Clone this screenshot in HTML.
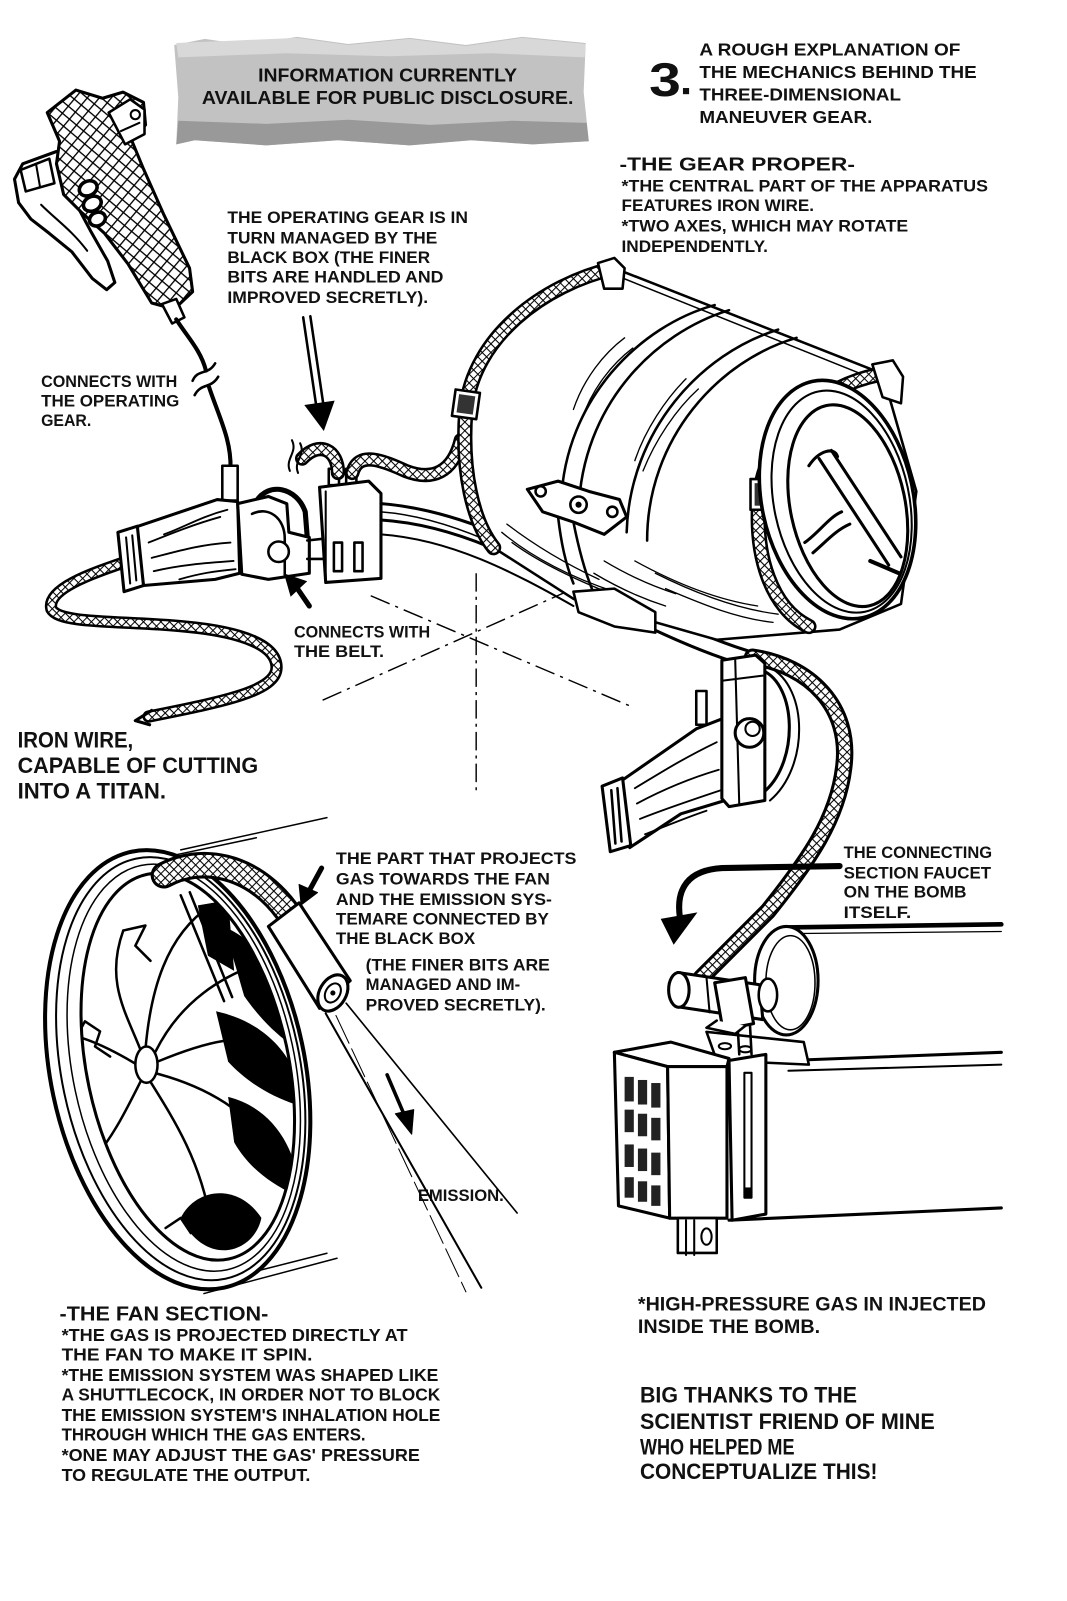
<!DOCTYPE html>
<html><head><meta charset="utf-8">
<style>
html,body{margin:0;padding:0;background:#fff;}
svg{display:block;}
text{font-family:"Liberation Sans",sans-serif;font-weight:bold;fill:#111;}
</style></head><body>
<svg width="1067" height="1601" viewBox="0 0 1042 1564" xmlns="http://www.w3.org/2000/svg">
<defs>
<pattern id="mesh" width="6" height="6" patternUnits="userSpaceOnUse" patternTransform="rotate(45)">
<rect width="6" height="6" fill="#fff"/>
<path d="M0 0H6M0 0V6" stroke="#000" stroke-width="2"/>
</pattern>
<pattern id="meshbig" width="9" height="9" patternUnits="userSpaceOnUse" patternTransform="rotate(40)">
<rect width="9" height="9" fill="#fff"/>
<path d="M0 0H9M0 0V9" stroke="#000" stroke-width="2.6"/>
</pattern>
<clipPath id="fanclip"><ellipse cx="182" cy="1065" rx="100" ry="195" transform="rotate(-12 182 1065)"/></clipPath>
</defs>

<!-- HEADER BOX -->
<path d="M170,44 L200,38 L240,44 L290,36 L340,43 L400,37 L455,44 L510,36 L572,42 L570,90 L575,138 L520,141 L460,137 L400,142 L330,137 L260,142 L190,137 L172,141 L174,95 Z" fill="#c2c2c2"/>
<path d="M172,42 L220,40 L290,37 L340,44 L400,38 L455,45 L510,37 L572,43 L571,56 L480,52 L380,55 L280,52 L174,56 Z" fill="#d8d8d8"/>
<path d="M174,118 L260,121 L340,117 L420,122 L500,118 L573,120 L575,138 L520,141 L460,137 L400,142 L330,137 L260,142 L190,137 L172,141 Z" fill="#999"/>
<text x="252" y="79.5" font-size="18" textLength="253" lengthAdjust="spacingAndGlyphs">INFORMATION CURRENTLY</text>
<text x="197" y="101.5" font-size="18" textLength="363" lengthAdjust="spacingAndGlyphs">AVAILABLE FOR PUBLIC DISCLOSURE.</text>

<!-- TITLE -->
<text x="634" y="94" font-size="46" textLength="31" lengthAdjust="spacingAndGlyphs">3</text>
<rect x="667" y="86" width="6" height="6" fill="#111"/>
<g font-size="17">
<text x="683" y="54" textLength="255" lengthAdjust="spacingAndGlyphs">A ROUGH EXPLANATION OF</text>
<text x="683" y="76" textLength="271" lengthAdjust="spacingAndGlyphs">THE MECHANICS BEHIND THE</text>
<text x="683" y="98" textLength="197" lengthAdjust="spacingAndGlyphs">THREE-DIMENSIONAL</text>
<text x="683" y="120" textLength="169" lengthAdjust="spacingAndGlyphs">MANEUVER GEAR.</text>
</g>
<text x="605" y="166.5" font-size="18" textLength="230" lengthAdjust="spacingAndGlyphs">-THE GEAR PROPER-</text>
<g font-size="16">
<text x="607" y="187" textLength="358" lengthAdjust="spacingAndGlyphs">*THE CENTRAL PART OF THE APPARATUS</text>
<text x="607" y="206" textLength="188" lengthAdjust="spacingAndGlyphs">FEATURES IRON WIRE.</text>
<text x="607" y="226" textLength="280" lengthAdjust="spacingAndGlyphs">*TWO AXES, WHICH MAY ROTATE</text>
<text x="607" y="246" textLength="143" lengthAdjust="spacingAndGlyphs">INDEPENDENTLY.</text>

<text x="222" y="218" textLength="235" lengthAdjust="spacingAndGlyphs">THE OPERATING GEAR IS IN</text>
<text x="222" y="238" textLength="205" lengthAdjust="spacingAndGlyphs">TURN MANAGED BY THE</text>
<text x="222" y="257" textLength="198" lengthAdjust="spacingAndGlyphs">BLACK BOX (THE FINER</text>
<text x="222" y="276" textLength="211" lengthAdjust="spacingAndGlyphs">BITS ARE HANDLED AND</text>
<text x="222" y="296" textLength="196" lengthAdjust="spacingAndGlyphs">IMPROVED SECRETLY).</text>

<text x="40" y="378" textLength="133" lengthAdjust="spacingAndGlyphs">CONNECTS WITH</text>
<text x="40" y="397" textLength="135" lengthAdjust="spacingAndGlyphs">THE OPERATING</text>
<text x="40" y="416" textLength="49" lengthAdjust="spacingAndGlyphs">GEAR.</text>

<text x="287" y="623" textLength="133" lengthAdjust="spacingAndGlyphs">CONNECTS WITH</text>
<text x="287" y="642" textLength="88" lengthAdjust="spacingAndGlyphs">THE BELT.</text>

<text x="328" y="844" textLength="235" lengthAdjust="spacingAndGlyphs">THE PART THAT PROJECTS</text>
<text x="328" y="864" textLength="209" lengthAdjust="spacingAndGlyphs">GAS TOWARDS THE FAN</text>
<text x="328" y="884" textLength="211" lengthAdjust="spacingAndGlyphs">AND THE EMISSION SYS-</text>
<text x="328" y="903" textLength="208" lengthAdjust="spacingAndGlyphs">TEMARE CONNECTED BY</text>
<text x="328" y="922" textLength="136" lengthAdjust="spacingAndGlyphs">THE BLACK BOX</text>
<text x="357" y="948" textLength="180" lengthAdjust="spacingAndGlyphs">(THE FINER BITS ARE</text>
<text x="357" y="967" textLength="151" lengthAdjust="spacingAndGlyphs">MANAGED AND IM-</text>
<text x="357" y="987" textLength="176" lengthAdjust="spacingAndGlyphs">PROVED SECRETLY).</text>
<text x="408" y="1173" textLength="84" lengthAdjust="spacingAndGlyphs">EMISSION.</text>

<text x="824" y="838" textLength="145" lengthAdjust="spacingAndGlyphs">THE CONNECTING</text>
<text x="824" y="858" textLength="144" lengthAdjust="spacingAndGlyphs">SECTION FAUCET</text>
<text x="824" y="877" textLength="120" lengthAdjust="spacingAndGlyphs">ON THE BOMB</text>
<text x="824" y="897" textLength="66" lengthAdjust="spacingAndGlyphs">ITSELF.</text>
</g>
<g font-size="22">
<text x="17" y="730" textLength="113" lengthAdjust="spacingAndGlyphs">IRON WIRE,</text>
<text x="17" y="755" textLength="235" lengthAdjust="spacingAndGlyphs">CAPABLE OF CUTTING</text>
<text x="17" y="780" textLength="145" lengthAdjust="spacingAndGlyphs">INTO A TITAN.</text>
</g>
<g font-size="19">
<text x="623" y="1280" textLength="340" lengthAdjust="spacingAndGlyphs">*HIGH-PRESSURE GAS IN INJECTED</text>
<text x="623" y="1302" textLength="178" lengthAdjust="spacingAndGlyphs">INSIDE THE BOMB.</text>
</g>
<g font-size="22">
<text x="625" y="1370" textLength="212" lengthAdjust="spacingAndGlyphs">BIG THANKS TO THE</text>
<text x="625" y="1396" textLength="288" lengthAdjust="spacingAndGlyphs">SCIENTIST FRIEND OF MINE</text>
<text x="625" y="1421" textLength="151" lengthAdjust="spacingAndGlyphs">WHO HELPED ME</text>
<text x="625" y="1445" textLength="232" lengthAdjust="spacingAndGlyphs">CONCEPTUALIZE THIS!</text>
</g>
<text x="58" y="1290" font-size="20" textLength="204" lengthAdjust="spacingAndGlyphs">-THE FAN SECTION-</text>
<g font-size="17">
<text x="60" y="1310" textLength="338" lengthAdjust="spacingAndGlyphs">*THE GAS IS PROJECTED DIRECTLY AT</text>
<text x="60" y="1329" textLength="245" lengthAdjust="spacingAndGlyphs">THE FAN TO MAKE IT SPIN.</text>
<text x="60" y="1349" textLength="368" lengthAdjust="spacingAndGlyphs">*THE EMISSION SYSTEM WAS SHAPED LIKE</text>
<text x="60" y="1368" textLength="370" lengthAdjust="spacingAndGlyphs">A SHUTTLECOCK, IN ORDER NOT TO BLOCK</text>
<text x="60" y="1388" textLength="370" lengthAdjust="spacingAndGlyphs">THE EMISSION SYSTEM'S INHALATION HOLE</text>
<text x="60" y="1407" textLength="297" lengthAdjust="spacingAndGlyphs">THROUGH WHICH THE GAS ENTERS.</text>
<text x="60" y="1427" textLength="350" lengthAdjust="spacingAndGlyphs">*ONE MAY ADJUST THE GAS' PRESSURE</text>
<text x="60" y="1447" textLength="243" lengthAdjust="spacingAndGlyphs">TO REGULATE THE OUTPUT.</text>
</g>

<!-- ===== OPERATING GEAR (GUN) ===== -->
<g stroke="#000" stroke-linejoin="round" stroke-linecap="round">
<path d="M14,175 L22,160 L55,148 L72,152 L78,170 L72,195 L88,225 L105,255 L112,276 L104,283 L90,272 L70,246 L48,228 L30,214 L18,198 Z" fill="#fff" stroke-width="3"/>
<path d="M20,166 L48,155 L53,179 L25,187 Z" fill="#fff" stroke-width="2.5"/>
<path d="M35,160 L39,183" stroke-width="2"/>
<path d="M40,200 C55,215 70,225 85,245" fill="none" stroke-width="2"/>
<path d="M46,110 L74,88 L100,96 L120,90 L140,100 L142,122 L128,136 L140,165 L160,210 L185,262 L188,285 L170,302 L148,296 L125,258 L102,228 L80,208 L62,190 L55,160 L58,138 Z" fill="url(#meshbig)" stroke-width="3"/>
<path d="M106,110 L127,97 L141,107 L141,131 L122,141 Z" fill="#fff" stroke-width="2.5"/>
<circle cx="132" cy="112" r="4.5" fill="none" stroke-width="2"/>
<path d="M118,128 L136,120" stroke-width="2"/>
<g fill="#fff" stroke-width="3.5">
<ellipse cx="86" cy="184" rx="9" ry="7" transform="rotate(-25 86 184)"/>
<ellipse cx="90" cy="199" rx="9" ry="7" transform="rotate(-25 90 199)"/>
<ellipse cx="95" cy="214" rx="8" ry="6.5" transform="rotate(-25 95 214)"/>
</g>
<path d="M158,297 L172,292 L180,310 L168,316 Z" fill="#fff" stroke-width="2.5"/>
<path d="M172,312 C182,328 196,342 201,362" fill="none" stroke-width="4"/>
<path d="M204,378 C214,408 226,430 225,458" fill="none" stroke-width="4"/>
<path d="M188,372 C193,360 203,367 210,355" fill="none" stroke-width="2.5"/>
<path d="M190,386 C196,374 206,380 213,368" fill="none" stroke-width="2.5"/>
<rect x="217" y="455" width="15" height="34" fill="#fff" stroke-width="2.5"/>
</g>

<!-- ===== LEFT HUB ===== -->
<g stroke="#000" stroke-linejoin="round" stroke-linecap="round" fill="none">
<path d="M125,548 C90,560 45,575 50,595 C58,610 120,606 180,612 C235,617 270,630 270,652 C270,675 220,685 145,700" stroke-width="12"/>
<path d="M125,548 C90,560 45,575 50,595 C58,610 120,606 180,612 C235,617 270,630 270,652 C270,675 220,685 145,700" stroke="url(#mesh)" stroke-width="7"/>
<path d="M148,694 L132,704 L146,708" stroke-width="3"/>
<path d="M132,515 L212,488 L232,490 L234,560 L210,566 L140,572 Z" fill="#fff" stroke-width="3"/>
<path d="M145,530 C170,520 190,512 215,505 M148,545 C175,538 195,532 225,530 M150,558 C175,552 200,550 228,548 M160,522 C180,515 195,505 222,498 M175,566 C195,560 210,558 230,556" stroke-width="1.8"/>
<path d="M115,520 L134,514 L140,572 L121,578 Z" fill="#fff" stroke-width="3"/>
<path d="M123,525 L127,570 M129,523 L133,567" stroke-width="2"/>
<path d="M250,490 C262,470 290,476 298,500 L300,525" stroke-width="5"/>
<path d="M232,492 L262,485 L280,492 L282,520 L302,525 L302,560 L262,566 L236,561 Z" fill="#fff" stroke-width="3"/>
<path d="M246,502 C262,494 278,506 278,526 L278,562" stroke-width="2.5"/>
<circle cx="272" cy="539" r="10" fill="#fff" stroke-width="2.5"/>
<path d="M300,528 L318,526 M300,546 L318,546" stroke-width="2.5"/>
<rect x="321" y="458" width="10" height="16" fill="#fff" stroke-width="2.5"/>
<rect x="338" y="458" width="10" height="16" fill="#fff" stroke-width="2.5"/>
<path d="M312,476 L360,470 L372,482 L372,565 L318,569 Z" fill="#fff" stroke-width="3"/>
<path d="M318,480 L318,569" stroke-width="2"/>
<rect x="326" y="530" width="8" height="28" fill="#fff" stroke-width="2.5"/>
<rect x="346" y="530" width="8" height="28" fill="#fff" stroke-width="2.5"/>
<path d="M330,462 C330,440 312,430 295,448" stroke-width="14"/>
<path d="M330,462 C330,440 312,430 295,448" stroke="url(#mesh)" stroke-width="9"/>
<path d="M344,462 C350,440 374,450 396,460 C422,470 442,462 450,430" stroke-width="14"/>
<path d="M344,462 C350,440 374,450 396,460 C422,470 442,462 450,430" stroke="url(#mesh)" stroke-width="9"/>
<path d="M283,460 C278,448 291,442 285,430 M291,462 C286,450 299,445 293,433" stroke-width="2"/>
<path d="M372,492 C450,498 520,535 600,578 C650,605 700,628 745,640" stroke-width="3"/>
<path d="M372,508 C450,513 515,550 592,592 C640,617 690,640 735,652" stroke-width="3"/>
<path d="M372,522 C440,527 500,558 560,592" stroke-width="2"/>
<path d="M372,500 C440,505 505,540 575,578" stroke-width="1.5"/>
</g>

<!-- arrows -->
<g stroke="#000" stroke-linecap="round">
<path d="M296,310 L309,398 M303,309 L316,397" stroke-width="2.5"/>
<path d="M298,396 L326,392 L316,420 Z" fill="#000"/>
<path d="M302,592 L289,573" stroke-width="5"/>
<path d="M278,561 L299,568 L284,582 Z" fill="#000"/>
</g>

<!-- axis lines -->
<g stroke="#000" fill="none" stroke-width="1.4">
<path d="M465,560 L465,775" stroke-dasharray="18,5,3,5"/>
<path d="M362,582 L616,690" stroke-dasharray="20,6,3,6"/>
<path d="M315,684 L560,575" stroke-dasharray="20,6,3,6"/>
</g>

<!-- ===== CYLINDER ===== -->
<g stroke="#000" stroke-linejoin="round" stroke-linecap="round">
<path d="M600,262 L862,365 L895,480 L880,590 L820,615 L700,625 L560,585 L482,535 C462,510 450,460 455,400 C462,330 530,278 600,262 Z" fill="#fff" stroke-width="2.5"/>
<path d="M604,270 L858,372" fill="none" stroke-width="1.5"/>
<g fill="none" stroke-width="2.5">
<path d="M698,298 C625,318 552,390 548,490"/>
<path d="M712,303 C640,325 568,395 565,500"/>
<path d="M760,322 C685,345 615,420 612,520"/>
<path d="M778,330 C702,352 632,428 632,528"/>
</g>
<g fill="none" stroke-width="1.3">
<path d="M560,400 C570,370 590,345 610,330 M568,410 C578,380 598,355 618,340 M620,450 C630,420 650,390 670,370 M628,460 C640,430 660,400 682,380"/>
<path d="M490,520 C520,545 560,565 600,578 M500,530 C530,552 570,570 610,585 M640,560 C680,580 720,595 760,600"/>
<path d="M495,512 C525,535 555,552 585,566 M620,548 C660,570 700,586 740,592 M650,575 C690,592 720,604 755,608"/>
<path d="M580,560 C600,572 625,584 650,592 M590,548 C610,560 635,572 660,580"/>
</g>
<path d="M600,262 C530,278 462,330 455,400 C450,460 462,510 482,535" fill="none" stroke-width="15"/>
<path d="M600,262 C530,278 462,330 455,400 C450,460 462,510 482,535" fill="none" stroke="url(#mesh)" stroke-width="10"/>
<rect x="443" y="382" width="24" height="26" fill="#fff" stroke-width="2.5" transform="rotate(8 455 395)"/>
<rect x="447" y="386" width="16" height="18" fill="#333" stroke="none" transform="rotate(8 455 395)"/>
<path d="M584,257 L600,252 L610,262 L608,282 L590,282 Z" fill="#fff" stroke-width="2.5"/>
<path d="M545,505 C548,530 552,550 560,570 M560,510 C565,535 570,555 578,575" fill="none" stroke-width="2.5"/>
<path d="M515,478 L545,470 L575,480 L605,488 L612,505 L590,522 L560,510 L530,500 Z" fill="#fff" stroke-width="3"/>
<circle cx="528" cy="480" r="5" fill="#fff" stroke-width="2.5"/>
<circle cx="565" cy="493" r="8" fill="#fff" stroke-width="2.5"/>
<circle cx="565" cy="493" r="3" fill="#000" stroke="none"/>
<circle cx="598" cy="500" r="5" fill="#fff" stroke-width="2.5"/>
<path d="M560,578 L600,575 L640,598 L640,618 L600,612 L565,598 Z" fill="#fff" stroke-width="2.5"/>
<path d="M858,366 C800,378 752,420 742,480 C735,545 755,595 790,612" fill="none" stroke-width="15"/>
<path d="M858,366 C800,378 752,420 742,480 C735,545 755,595 790,612" fill="none" stroke="url(#mesh)" stroke-width="10"/>
<rect x="733" y="468" width="24" height="30" fill="#fff" stroke-width="2.5"/>
<rect x="737" y="472" width="16" height="22" fill="#333" stroke="none"/>
<path d="M852,356 L872,352 L882,368 L880,394 L862,388 Z" fill="#fff" stroke-width="2.5"/>
<ellipse cx="818" cy="488" rx="74" ry="118" transform="rotate(-12 818 488)" fill="#fff" stroke-width="3.5"/>
<ellipse cx="822" cy="490" rx="66" ry="110" transform="rotate(-12 822 490)" fill="none" stroke-width="2"/>
<ellipse cx="828" cy="494" rx="56" ry="100" transform="rotate(-12 828 494)" fill="#fff" stroke-width="3"/>
<path d="M800,448 L868,552 M812,440 L880,544" fill="none" stroke-width="3"/>
<path d="M790,455 C800,440 815,436 818,446" fill="none" stroke-width="3"/>
<path d="M786,530 C800,520 810,505 822,500 M794,540 C806,530 816,518 830,512" fill="none" stroke-width="3"/>
<path d="M850,548 L878,560" stroke-width="4"/>
</g>

<!-- ===== LOWER RIGHT GRIP ===== -->
<g stroke="#000" stroke-linejoin="round" stroke-linecap="round">
<path d="M735,642 C790,650 832,690 824,750 C818,800 790,840 750,890 L685,955" fill="none" stroke-width="17"/>
<path d="M735,642 C790,650 832,690 824,750 C818,800 790,840 750,890 L685,955" fill="none" stroke="url(#mesh)" stroke-width="11"/>
<path d="M745,655 C778,670 780,742 748,772" fill="none" stroke-width="3"/>
<path d="M752,652 C790,672 790,750 752,782" fill="none" stroke-width="2"/>
<path d="M608,762 L680,712 L706,702 L708,782 L665,795 L615,828 Z" fill="#fff" stroke-width="3"/>
<path d="M620,770 C645,755 665,742 700,725 M622,785 C650,770 675,760 702,752 M625,800 C650,790 680,780 704,772 M630,815 C655,805 672,798 690,792" fill="none" stroke-width="1.8"/>
<path d="M588,768 L608,760 L616,826 L596,832 Z" fill="#fff" stroke-width="3"/>
<path d="M597,772 L601,824 M603,770 L607,822" fill="none" stroke-width="2.5"/>
<rect x="680" y="675" width="10" height="33" fill="#fff" stroke-width="2.5"/>
<path d="M705,645 L738,640 L747,648 L747,782 L712,788 L705,780 Z" fill="#fff" stroke-width="3"/>
<path d="M718,643 L722,786 M705,665 L745,660" fill="none" stroke-width="2"/>
<circle cx="732" cy="716" r="14" fill="#fff" stroke-width="3"/>
<circle cx="735" cy="712" r="7" fill="none" stroke-width="2"/>
</g>

<!-- curved black arrow -->
<g stroke="#000" fill="none" stroke-linecap="round">
<path d="M820,846 L705,848 C672,850 660,868 664,896" stroke-width="6"/>
<path d="M646,898 L680,892 L658,922 Z" fill="#000" stroke-width="1"/>
</g>

<!-- ===== BOMB ===== -->
<g stroke="#000" stroke-linejoin="round" stroke-linecap="round">
<path d="M768,906 L978,903" stroke-width="4.5"/>
<path d="M768,912 L978,910" stroke-width="1.2"/>
<path d="M770,1036 L978,1028" stroke-width="3"/>
<path d="M770,1046 L978,1040" stroke-width="2"/>
<path d="M712,1192 L978,1180" stroke-width="3"/>
<ellipse cx="768" cy="958" rx="31" ry="53" fill="#fff" stroke-width="3"/>
<ellipse cx="772" cy="960" rx="24" ry="46" fill="none" stroke-width="1.5"/>
<path d="M690,1008 L785,1018 L790,1040 L700,1036 Z" fill="#fff" stroke-width="2.5"/>
<ellipse cx="708" cy="1022" rx="6" ry="3" fill="none" stroke-width="2"/>
<ellipse cx="728" cy="1025" rx="6" ry="3" fill="none" stroke-width="2"/>
<path d="M720,995 L722,1030 M732,992 L734,1030" fill="none" stroke-width="2.5"/>
<path d="M662,950 L742,962 L745,996 L665,984 Z" fill="#fff" stroke-width="3"/>
<ellipse cx="663" cy="967" rx="10" ry="17" fill="#fff" stroke-width="3"/>
<path d="M690,955 L693,989" fill="none" stroke-width="2"/>
<path d="M698,960 L728,955 L736,1000 L706,1006 Z" fill="#fff" stroke-width="3"/>
<ellipse cx="750" cy="972" rx="9" ry="16" fill="#fff" stroke-width="2.5"/>
<path d="M700,997 L690,1004 L718,1010 L728,1002" fill="#fff" stroke-width="2.5"/>
<path d="M600,1028 L655,1018 L712,1034 L710,1042 L652,1042 Z" fill="#fff" stroke-width="3"/>
<path d="M600,1028 L652,1042 L654,1190 L604,1178 Z" fill="#fff" stroke-width="3"/>
<path d="M652,1042 L710,1042 L710,1190 L654,1190 Z" fill="#fff" stroke-width="3"/>
<path d="M712,1036 L748,1030 L748,1186 L715,1192 Z" fill="#fff" stroke-width="3"/>
<rect x="727" y="1048" width="7" height="122" fill="#fff" stroke-width="2"/>
<rect x="727" y="1160" width="7" height="10" fill="#000" stroke="none"/>
<g fill="#222" stroke="none">
<rect x="610" y="1052" width="9" height="24"/><rect x="623" y="1055" width="9" height="24"/><rect x="636" y="1058" width="9" height="24"/>
<rect x="610" y="1084" width="9" height="22"/><rect x="623" y="1088" width="9" height="22"/><rect x="636" y="1092" width="9" height="22"/>
<rect x="610" y="1118" width="9" height="22"/><rect x="623" y="1122" width="9" height="22"/><rect x="636" y="1126" width="9" height="22"/>
<rect x="610" y="1150" width="9" height="20"/><rect x="623" y="1154" width="9" height="20"/><rect x="636" y="1158" width="9" height="20"/>
</g>
<rect x="662" y="1190" width="38" height="34" fill="#fff" stroke-width="2.5"/>
<path d="M670,1192 L670,1226 M678,1192 L678,1226" fill="none" stroke-width="2"/>
<ellipse cx="690" cy="1208" rx="5" ry="8" fill="none" stroke-width="2"/>
</g>

<!-- ===== FAN ===== -->
<g stroke="#000" stroke-linejoin="round" stroke-linecap="round" transform="translate(4,-7) scale(0.985)">
<path d="M175,850 L320,818 M165,856 L250,838" fill="none" stroke-width="1.5"/>
<path d="M198,1290 L330,1255 M210,1278 L320,1250" fill="none" stroke-width="1.5"/>
<ellipse cx="172" cy="1068" rx="126" ry="221" transform="rotate(-12 172 1068)" fill="#fff" stroke-width="4"/>
<ellipse cx="175" cy="1067" rx="118" ry="213" transform="rotate(-12 175 1067)" fill="none" stroke-width="2"/>
<ellipse cx="178" cy="1066" rx="110" ry="205" transform="rotate(-12 178 1066)" fill="none" stroke-width="1.5"/>
<ellipse cx="182" cy="1065" rx="100" ry="195" transform="rotate(-12 182 1065)" fill="#fff" stroke-width="3"/>
<g clip-path="url(#fanclip)">
<path d="M192,905 L222,900 L228,970 L202,955 Z" fill="#000" stroke="none"/>
<path d="M215,925 C255,940 290,990 295,1050 C270,1035 252,1015 238,995 C232,975 226,950 215,925 Z" fill="#000" stroke="none"/>
<path d="M210,1010 C255,1020 290,1050 298,1105 C270,1098 242,1082 222,1060 Z" fill="#000" stroke="none"/>
<path d="M222,1095 C262,1105 290,1140 294,1195 C265,1182 242,1165 228,1140 Z" fill="#000" stroke="none"/>
<path d="M175,1215 C190,1185 232,1180 255,1215 C248,1250 200,1265 175,1215 Z" fill="#000" stroke="none"/>
<g fill="none" stroke-width="2.5">
<path d="M140,1048 C145,990 160,935 205,905"/>
<path d="M150,1050 C175,1000 215,975 260,960"/>
<path d="M152,1060 C200,1040 240,1030 270,1045"/>
<path d="M152,1072 C200,1085 245,1110 265,1150"/>
<path d="M145,1080 C170,1120 195,1160 205,1220"/>
<path d="M135,1080 C120,1110 105,1140 85,1160"/>
<path d="M130,1062 C110,1050 90,1040 72,1035"/>
<path d="M135,1048 C120,1010 100,980 118,930"/>
<path d="M118,930 L140,925 L130,945 L145,960"/>
<path d="M72,1035 L80,1020 L95,1030 L90,1045 L105,1055"/>
<path d="M85,1160 L78,1175 L100,1170 L95,1155"/>
<path d="M205,1220 L185,1230 L175,1215 L160,1225"/>
<path d="M260,960 L270,950 L265,975"/>
<path d="M175,895 L218,1000 M184,892 L226,996"/>
</g>
</g>
<ellipse cx="141" cy="1063" rx="11" ry="18" fill="#fff" stroke-width="2.5"/>
</g>
<!-- fan tube + nozzle (not transformed) -->
<g stroke="#000" stroke-linejoin="round" stroke-linecap="round">
<path d="M160,855 C195,836 245,843 280,890" fill="none" stroke-width="26"/>
<path d="M160,855 C195,836 245,843 280,890" fill="none" stroke="url(#mesh)" stroke-width="20"/>
<path d="M262,905 L292,882 L342,958 L312,985 Z" fill="#fff" stroke-width="3"/>
<ellipse cx="325" cy="970" rx="13" ry="19" transform="rotate(30 325 970)" fill="#fff" stroke-width="3"/>
<ellipse cx="325" cy="970" rx="7" ry="10" transform="rotate(30 325 970)" fill="none" stroke-width="2"/>
<circle cx="325" cy="970" r="2.5" fill="#000" stroke="none"/>
<path d="M314,848 L302,870" stroke-width="5"/>
<path d="M292,864 L310,872 L294,884 Z" fill="#000" stroke-width="1"/>
<path d="M318,990 L470,1258" fill="none" stroke-width="2"/>
<path d="M328,992 L455,1262" fill="none" stroke-width="1" stroke-dasharray="30,6"/>
<path d="M338,980 L505,1185" fill="none" stroke-width="1.6"/>
<path d="M378,1050 L396,1092" stroke-width="3.5"/>
<path d="M386,1088 L404,1084 L402,1108 Z" fill="#000" stroke-width="1"/>
</g>
</svg>
</body></html>
